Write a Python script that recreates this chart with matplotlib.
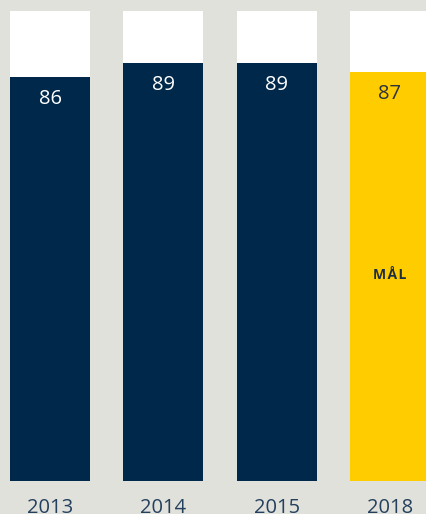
import matplotlib.pyplot as plt

years = ['2013', '2014', '2015', '2018']
values = [86, 89, 89, 87]
colors = ['#00284a', '#00284a', '#00284a', '#ffcc00']
label_colors = ['white', 'white', 'white', '#2b3340']
goal_text = 'M\u200aÅ\u200aL'

bg = '#e1e1db'
plt.rcParams['font.family'] = ['Open Sans', 'DejaVu Sans']

fig = plt.figure(figsize=(4.27, 5.14), dpi=100, facecolor=bg)
ax = fig.add_axes([0, 33/514, 1, 470/514])
ax.set_facecolor(bg)

x = range(len(years))
w = 80/113.33
ax.bar(x, [100]*len(years), width=w, color='white', zorder=1)
ax.bar(x, values, width=w, color=colors, zorder=2)

for i, v in enumerate(values):
    ax.text(i, v - 4.7, str(v), ha='center', va='center', fontsize=14.5,
            color=label_colors[i], zorder=3)

ax.text(3, 43.8, goal_text, ha='center', va='center', fontsize=10,
        fontweight='bold', color='#1c2e45', zorder=3)

ax.set_xlim(-50/113.33, 3 + 37/113.33)
ax.set_ylim(0, 100)
ax.set_xticks(list(x))
ax.set_xticklabels(years, fontsize=14.5, color='#24405e')
ax.tick_params(axis='x', length=0, pad=12)
ax.set_yticks([])
for s in ax.spines.values():
    s.set_visible(False)

fig.savefig('out.png', dpi=100, facecolor=bg)
